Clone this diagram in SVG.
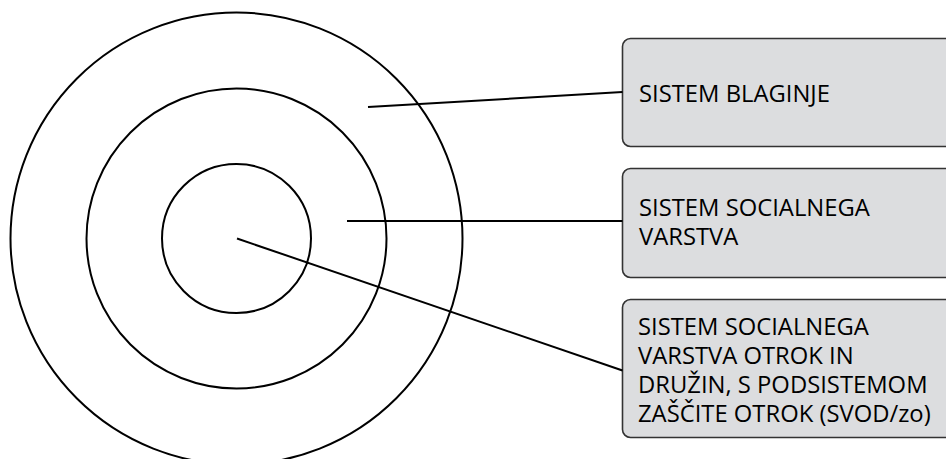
<svg xmlns="http://www.w3.org/2000/svg" width="946" height="459" viewBox="0 0 946 459">
<style>
.ring{fill:none;stroke:#000;stroke-width:2}
.box{fill:#dcdddf;stroke:#333;stroke-width:1.6}
.lbl{font-family:"Open Sans","Liberation Sans",sans-serif;font-size:23.8px;fill:#000}
.con{stroke:#000;stroke-width:2;fill:none}
</style>
<rect width="946" height="459" fill="#fff"/>
<g id="rings">
<circle class="ring" cx="236.5" cy="238.5" r="226"/>
<circle class="ring" cx="236.5" cy="238.5" r="150"/>
<circle class="ring" cx="236.5" cy="238.5" r="74.5"/>
</g>
<g id="node-blaginje">
<rect class="box" x="622.5" y="38.5" width="340" height="108" rx="8"/>
<text class="lbl" x="639" y="102">SISTEM BLAGINJE</text>
</g>
<g id="node-socialno">
<rect class="box" x="622.5" y="168.5" width="340" height="109" rx="8"/>
<text class="lbl" x="639" y="215.5">SISTEM SOCIALNEGA</text>
<text class="lbl" x="639" y="245">VARSTVA</text>
</g>
<g id="node-otroci">
<rect class="box" x="622.5" y="299.5" width="340" height="138" rx="8"/>
<text class="lbl" x="638" y="334.5">SISTEM SOCIALNEGA</text>
<text class="lbl" x="638" y="363.5">VARSTVA OTROK IN</text>
<text class="lbl" x="638" y="392.5">DRUŽIN, S PODSISTEMOM</text>
<text class="lbl" x="638" y="421.5">ZAŠČITE OTROK (SVOD/zo)</text>
</g>
<g id="connectors">
<line class="con" x1="368" y1="107" x2="622.5" y2="92"/>
<line class="con" x1="347" y1="221" x2="622.5" y2="221"/>
<line class="con" x1="237" y1="238.5" x2="622.5" y2="370.5"/>
</g>
</svg>
